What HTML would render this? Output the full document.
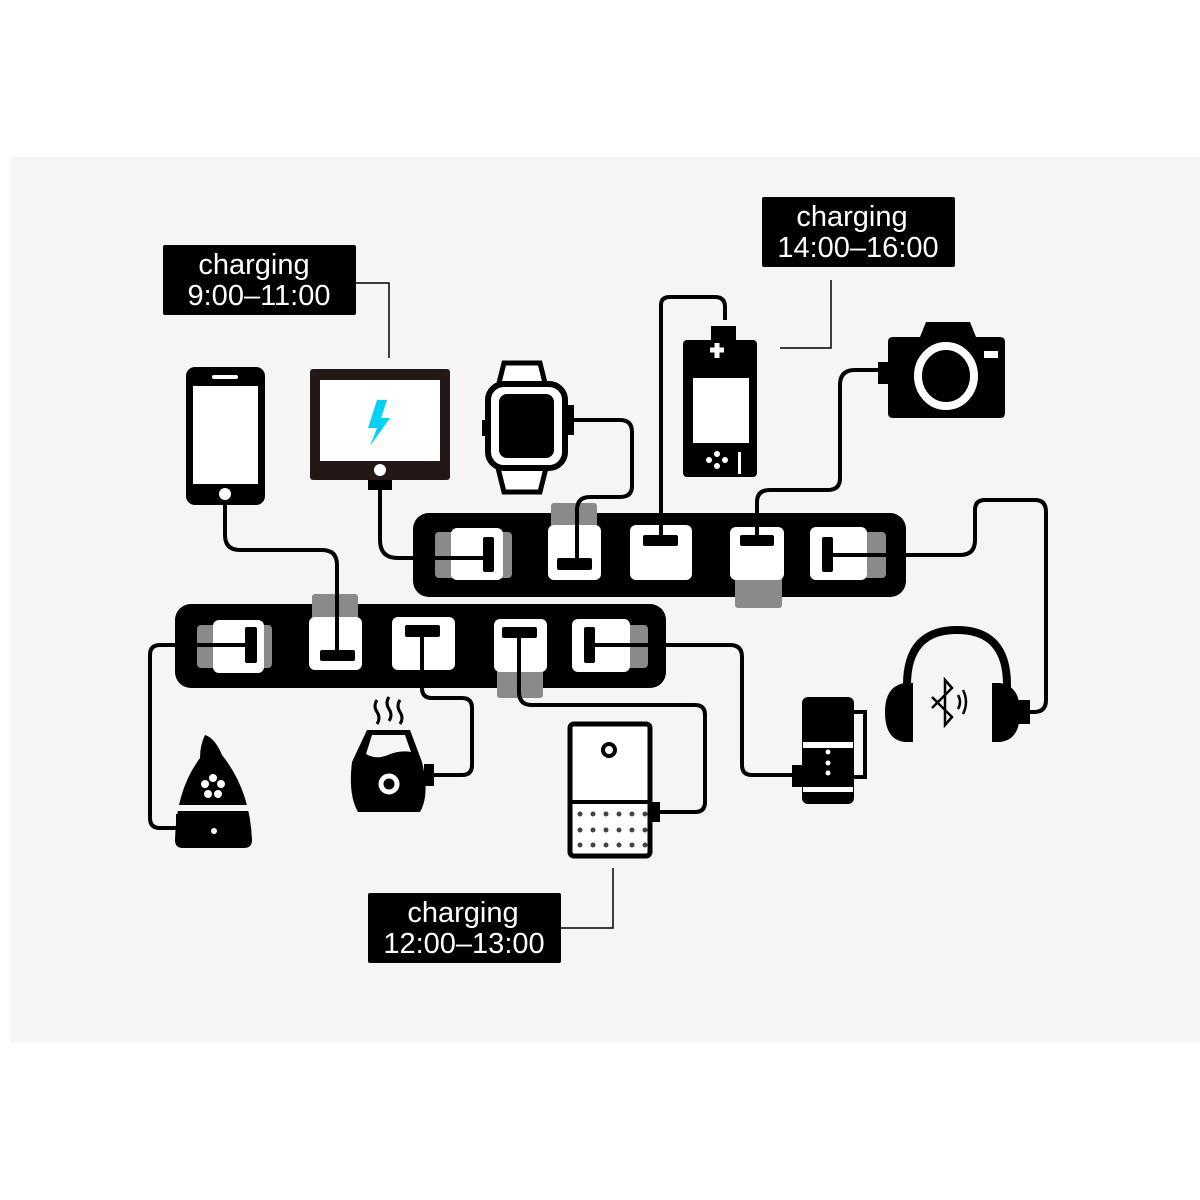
<!DOCTYPE html>
<html><head><meta charset="utf-8"><style>
html,body{margin:0;padding:0;background:#fff;}
svg{display:block}
text{font-family:"Liberation Sans",sans-serif;}
</style></head><body>
<svg width="1200" height="1200" viewBox="0 0 1200 1200" xmlns="http://www.w3.org/2000/svg">
<rect x="10" y="157" width="1190" height="885" fill="#f5f5f5"/>

<!-- labels -->
<g fill="#000"><rect x="163" y="245" width="193" height="70" rx="2"/><rect x="762" y="197" width="193" height="70" rx="2"/><rect x="368" y="893" width="193" height="70" rx="2"/></g>
<g fill="#fff" font-size="29" text-anchor="middle">
<text x="254" y="274">charging</text><text x="259" y="305">9:00–11:00</text>
<text x="852" y="226">charging</text><text x="858" y="257">14:00–16:00</text>
<text x="463" y="922">charging</text><text x="464" y="953">12:00–13:00</text>
</g>
<g fill="none" stroke="#000" stroke-width="1.5">
<path d="M356 283 H389 V358"/><path d="M831 280 V348 H780"/><path d="M561 928 H613 V868"/>
</g>

<!-- strips -->
<rect x="413" y="513" width="493" height="84" rx="16" fill="#000"/>
<rect x="175" y="604" width="491" height="84" rx="16" fill="#000"/>
<g fill="#8a8a8a">
<rect x="435" y="532" width="77" height="46" rx="4"/><rect x="551" y="503" width="46" height="30" rx="3"/>
<rect x="735" y="572" width="47" height="36" rx="3"/><rect x="850" y="532" width="36" height="46" rx="4"/>
<rect x="197" y="625" width="75" height="43" rx="4"/><rect x="312" y="594" width="46" height="30" rx="3"/>
<rect x="497" y="664" width="46" height="34" rx="3"/><rect x="610" y="625" width="38" height="43" rx="4"/>
</g>
<g fill="#fff">
<rect x="451" y="528" width="52" height="52" rx="6"/><rect x="548" y="525" width="53" height="55" rx="6"/>
<rect x="630" y="525" width="62" height="55" rx="6"/><rect x="730" y="527" width="54" height="53" rx="6"/>
<rect x="810" y="527" width="57" height="53" rx="6"/>
<rect x="213" y="620" width="51" height="53" rx="6"/><rect x="309" y="617" width="53" height="53" rx="6"/>
<rect x="392" y="617" width="63" height="53" rx="6"/><rect x="494" y="619" width="53" height="53" rx="6"/>
<rect x="572" y="619" width="58" height="53" rx="6"/>
</g>
<g fill="#000">
<rect x="483" y="537" width="11" height="35" rx="2"/><rect x="557" y="558" width="35" height="12" rx="2"/>
<rect x="643" y="535" width="35" height="11" rx="2"/><rect x="740" y="535" width="34" height="11" rx="2"/>
<rect x="822" y="537" width="11" height="35" rx="2"/>
<rect x="245" y="627" width="12" height="36" rx="2"/><rect x="320" y="650" width="35" height="11" rx="2"/>
<rect x="405" y="625" width="35" height="12" rx="2"/><rect x="502" y="627" width="35" height="11" rx="2"/>
<rect x="584" y="627" width="11" height="36" rx="2"/>
</g>

<!-- cables -->
<g fill="none" stroke="#000" stroke-width="4" stroke-linejoin="round">
<path d="M225 505 V535 Q225 550 240 550 H322 Q337 550 337 565 V655"/>
<path d="M380 487 V540 Q380 558 398 558 H490"/>
<path d="M572 420 H620 Q632 420 632 432 V486 Q632 497 620 497 H590 Q577 497 577 510 V562"/>
<path d="M661 540 V305 Q661 297 670 297 H715 Q725 297 725 307 V320"/>
<path d="M883 370 H855 Q840 370 840 385 V478 Q840 490 828 490 H770 Q757 490 757 502 V540"/>
<path d="M828 555 H960 Q975 555 975 540 V510 Q975 500 985 500 H1035 Q1046 500 1046 512 V700 Q1046 712 1034 712 H1028"/>
<path d="M250 645 H160 Q150 645 150 655 V818 Q150 828 160 828 H178"/>
<path d="M422 630 V688 Q422 698 432 698 H462 Q472 698 472 708 V765 Q472 775 462 775 H432"/>
<path d="M519 632 V692 Q519 705 532 705 H695 Q705 705 705 715 V802 Q705 812 695 812 H652"/>
<path d="M590 645 H730 Q742 645 742 657 V765 Q742 775 752 775 H802"/>
</g>

<!-- phone -->
<rect x="186" y="367" width="79" height="138" rx="9" fill="#000"/>
<rect x="193" y="386" width="65" height="98" fill="#fff"/>
<rect x="212" y="375" width="26" height="4" rx="2" fill="#fff"/>
<circle cx="225" cy="494" r="6" fill="#fff"/>
<!-- tablet -->
<rect x="310" y="369" width="140" height="111" rx="3" fill="#231815"/>
<rect x="320" y="380" width="120" height="81" fill="#fff"/>
<polygon points="377,400 368,428 377,428 370,446 390,418 381,418 387,400" fill="#00d2f5"/>
<circle cx="380" cy="470" r="6" fill="#fff"/>
<rect x="368" y="480" width="24" height="10" fill="#000"/>
<!-- watch -->
<path d="M504 363 H540 L546 387 H498 Z M504 492 H540 L546 468 H498 Z" fill="#fff" stroke="#000" stroke-width="5"/>
<rect x="488" y="384" width="77" height="84" rx="16" fill="#fff" stroke="#000" stroke-width="6"/>
<rect x="499" y="394" width="55" height="64" rx="8" fill="#000"/>
<rect x="565" y="405" width="9" height="30" fill="#000"/><rect x="482" y="420" width="6" height="16" fill="#000"/>
<!-- console -->
<rect x="683" y="340" width="74" height="137" rx="4" fill="#000"/>
<rect x="711" y="326" width="25" height="14" fill="#000"/>
<rect x="693" y="378" width="56" height="65" fill="#fff"/>
<path d="M717 343 v15 M710 350 h14" stroke="#fff" stroke-width="5"/>
<g fill="#fff"><circle cx="709" cy="460" r="3"/><circle cx="717" cy="454" r="3"/><circle cx="717" cy="466" r="3"/><circle cx="725" cy="460" r="3"/><rect x="738" y="452" width="3" height="22"/></g>
<!-- camera -->
<path d="M926 322 H970 L976 337 H1000 Q1005 337 1005 342 V413 Q1005 418 1000 418 H893 Q888 418 888 413 V342 Q888 337 893 337 H920 Z" fill="#000"/>
<rect x="878" y="362" width="12" height="22" fill="#000"/>
<ellipse cx="946" cy="376" rx="28" ry="30" fill="none" stroke="#fff" stroke-width="8"/>
<rect x="984" y="351" width="14" height="7" fill="#fff"/>
<!-- headphones -->
<path d="M907 715 V685 Q907 630 957 630 Q1007 630 1007 685 V715" fill="none" stroke="#000" stroke-width="8"/>
<path d="M913 683 V742 H905 Q885 740 885 712 Q885 686 905 683 Z" fill="#000"/>
<path d="M992 683 V742 H1000 Q1020 740 1020 712 Q1020 686 1000 683 Z" fill="#000"/>
<rect x="1018" y="700" width="12" height="24" fill="#000"/>
<path d="M932 697 L952 717 L945 725 V680 L952 688 L932 708" fill="none" stroke="#000" stroke-width="2.5"/>
<path d="M958 695 Q962 702 958 709 M963 690 Q969 702 963 714" fill="none" stroke="#000" stroke-width="2.5"/>
<!-- diffuser -->
<path d="M205 735 Q215 738 222 755 Q250 790 252 840 Q252 848 244 848 H183 Q175 848 175 840 Q176 790 200 758 Q200 745 205 735 Z" fill="#000"/>
<rect x="175" y="805" width="78" height="6" fill="#f5f5f5"/>
<rect x="176" y="814" width="4" height="20" fill="#000"/>
<circle cx="214" cy="831" r="3" fill="#fff"/>
<g fill="#fff"><circle cx="213" cy="778" r="4"/><circle cx="205" cy="784" r="4"/><circle cx="221" cy="784" r="4"/><circle cx="208" cy="794" r="4"/><circle cx="218" cy="794" r="4"/></g>
<!-- kettle -->
<path d="M367 730 H410 L422 762 Q430 795 420 812 H358 Q348 795 352 762 Z" fill="#000"/>
<path d="M372 735 H405 L411 752 Q400 750 388 755 Q376 760 366 754 Z" fill="#f5f5f5"/>
<circle cx="389" cy="784" r="8" fill="none" stroke="#fff" stroke-width="5"/>
<rect x="424" y="764" width="10" height="22" fill="#000"/>
<path d="M377 700 q-4 6 0 12 q4 6 0 12 M389 697 q-4 6 0 12 q4 6 0 12 M400 700 q-4 6 0 12 q4 6 0 12" fill="none" stroke="#000" stroke-width="3"/>
<!-- purifier -->
<rect x="570" y="724" width="80" height="132" rx="4" fill="#fff" stroke="#000" stroke-width="5"/>
<rect x="570" y="800" width="80" height="4" fill="#000"/>
<circle cx="609" cy="750" r="6" fill="none" stroke="#000" stroke-width="4"/>
<g fill="#444">
<circle cx="580" cy="814" r="2.5"/><circle cx="593" cy="814" r="2.5"/><circle cx="606" cy="814" r="2.5"/><circle cx="619" cy="814" r="2.5"/><circle cx="632" cy="814" r="2.5"/><circle cx="645" cy="814" r="2.5"/>
<circle cx="580" cy="830" r="2.5"/><circle cx="593" cy="830" r="2.5"/><circle cx="606" cy="830" r="2.5"/><circle cx="619" cy="830" r="2.5"/><circle cx="632" cy="830" r="2.5"/><circle cx="645" cy="830" r="2.5"/>
<circle cx="580" cy="845" r="2.5"/><circle cx="593" cy="845" r="2.5"/><circle cx="606" cy="845" r="2.5"/><circle cx="619" cy="845" r="2.5"/><circle cx="632" cy="845" r="2.5"/><circle cx="645" cy="845" r="2.5"/>
</g>
<rect x="652" y="802" width="8" height="20" fill="#000"/>
<!-- cup -->
<rect x="802" y="697" width="52" height="107" rx="6" fill="#000"/>
<rect x="803" y="742" width="50" height="6" fill="#fff"/>
<rect x="803" y="787" width="50" height="5" fill="#fff"/>
<path d="M854 712 H865 V777 H854" fill="none" stroke="#000" stroke-width="4"/>
<g fill="#fff"><circle cx="828" cy="752" r="2.5"/><circle cx="828" cy="763" r="2.5"/><circle cx="828" cy="773" r="2.5"/></g>
<rect x="792" y="765" width="10" height="22" fill="#000"/>
</svg>
</body></html>
